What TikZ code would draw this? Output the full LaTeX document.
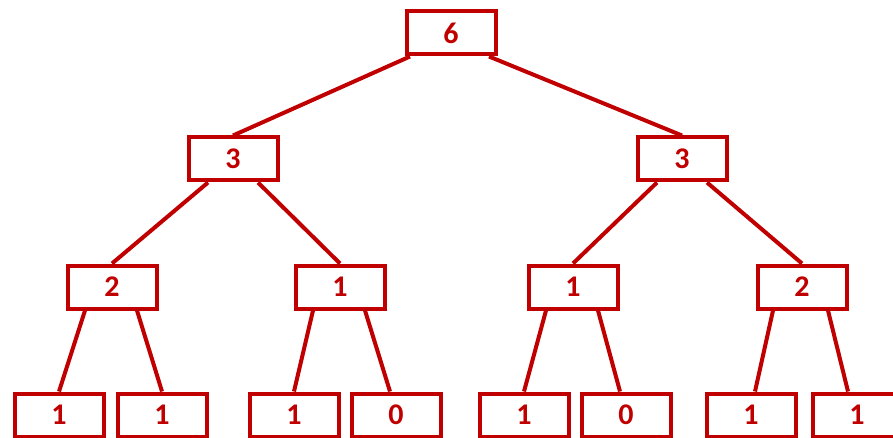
\documentclass[tikz,border=0pt]{standalone}
\usepackage{fontspec}
\setmainfont{Carlito}
\definecolor{treered}{RGB}{192,0,0}
\begin{document}
\begin{tikzpicture}[x=0.5pt, y=-0.5pt,
  every node/.style = {shape=rectangle, draw=treered, line width=2pt,
    fill=white, minimum width=44.5pt, minimum height=21.5pt, inner sep=0pt,
    text=treered, font=\fontsize{15}{15}\selectfont\bfseries},
  link/.style = {draw=treered, line width=2pt}]
  \clip (0,0) rectangle (893,438);
  \node (n) at (451,33) {6};
  \node (nl) at (233,159) {3};
  \node (nr) at (682,159) {3};
  \node (nll) at (112,287) {2};
  \node (nlr) at (340,287) {1};
  \node (nrl) at (573,287) {1};
  \node (nrr) at (802,287) {2};
  \node (nlll) at (59,415) {1};
  \node (nllr) at (162,415) {1};
  \node (nlrl) at (294,415) {1};
  \node (nlrr) at (396,415) {0};
  \node (nrll) at (524,415) {1};
  \node (nrlr) at (626,415) {0};
  \node (nrrl) at (751,415) {1};
  \node (nrrr) at (857,415) {1};
  \draw[link] ([shift={(-41,0)}]n.south) -- (nl.north);
  \draw[link] ([shift={(38,0)}]n.south) -- (nr.north);
  \draw[link] ([shift={(-25,0)}]nl.south) -- (nll.north);
  \draw[link] ([shift={(25,0)}]nl.south) -- (nlr.north);
  \draw[link] ([shift={(-25,0)}]nr.south) -- (nrl.north);
  \draw[link] ([shift={(25,0)}]nr.south) -- (nrr.north);
  \draw[link] ([shift={(-27,0)}]nll.south) -- (nlll.north);
  \draw[link] ([shift={(25,0)}]nll.south) -- (nllr.north);
  \draw[link] ([shift={(-27,0)}]nlr.south) -- (nlrl.north);
  \draw[link] ([shift={(25,0)}]nlr.south) -- ([shift={(-6,0)}]nlrr.north);
  \draw[link] ([shift={(-27,0)}]nrl.south) -- (nrll.north);
  \draw[link] ([shift={(25,0)}]nrl.south) -- ([shift={(-6,0)}]nrlr.north);
  \draw[link] ([shift={(-29,0)}]nrr.south) -- ([shift={(4,0)}]nrrl.north);
  \draw[link] ([shift={(26,0)}]nrr.south) -- ([shift={(-9,0)}]nrrr.north);
\end{tikzpicture}
\end{document}
